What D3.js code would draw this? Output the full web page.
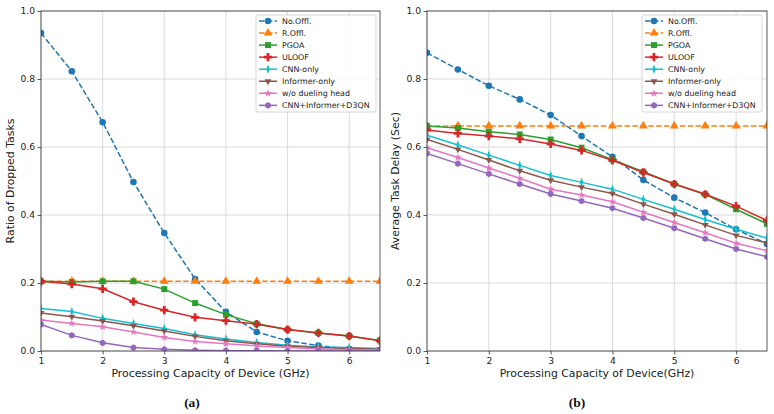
<!DOCTYPE html>
<html>
<head>
<meta charset="utf-8">
<script src="https://cdn.jsdelivr.net/npm/d3@7"></script>
<style>
  body { margin: 0; background: #fff; }
  text { font-family: "DejaVu Sans", sans-serif; }
</style>
</head>
<body>
<svg id="fig" width="774" height="414"></svg>
<script>
/*------------------------------------------*/
/*            Data                          */
/*------------------------------------------*/

var capacity = [1, 1.5, 2, 2.5, 3, 3.5, 4, 4.5, 5, 5.5, 6, 6.5];
var xTicks = [1, 2, 3, 4, 5, 6];
var yTicks = [0, 0.2, 0.4, 0.6, 0.8, 1.0];

var seriesNames = ["No.Offl.", "R.Offl.", "PGOA", "ULOOF", "CNN-only",
                   "Informer-only", "w/o dueling head", "CNN+Informer+D3QN"];

// (a) ratio of dropped tasks
var dropNoOffl    = [0.935, 0.823, 0.673, 0.497, 0.347, 0.212, 0.115, 0.056, 0.030, 0.016, 0.006, 0.003];
var dropROffl     = [0.205, 0.205, 0.205, 0.205, 0.205, 0.205, 0.205, 0.205, 0.205, 0.205, 0.205, 0.205];
var dropPGOA      = [0.205, 0.203, 0.205, 0.205, 0.182, 0.141, 0.107, 0.080, 0.063, 0.053, 0.044, 0.031];
var dropULOOF     = [0.205, 0.197, 0.183, 0.145, 0.120, 0.099, 0.089, 0.079, 0.063, 0.053, 0.044, 0.030];
var dropCNN       = [0.125, 0.116, 0.096, 0.081, 0.066, 0.048, 0.035, 0.025, 0.017, 0.012, 0.010, 0.007];
var dropInformer  = [0.112, 0.101, 0.088, 0.074, 0.059, 0.043, 0.030, 0.021, 0.014, 0.010, 0.007, 0.005];
var dropNoDueling = [0.091, 0.081, 0.071, 0.056, 0.040, 0.028, 0.021, 0.015, 0.010, 0.006, 0.004, 0.003];
var dropOurs      = [0.078, 0.046, 0.024, 0.010, 0.005, 0.002, 0.001, 0.001, 0.000, 0.000, 0.000, 0.000];

// (b) average task delay (sec)
var delayNoOffl    = [0.877, 0.828, 0.780, 0.740, 0.694, 0.632, 0.571, 0.503, 0.451, 0.407, 0.358, 0.315];
var delayROffl     = [0.662, 0.662, 0.662, 0.662, 0.662, 0.662, 0.662, 0.662, 0.662, 0.662, 0.662, 0.662];
var delayPGOA      = [0.662, 0.656, 0.645, 0.637, 0.622, 0.598, 0.563, 0.527, 0.491, 0.461, 0.417, 0.374];
var delayULOOF     = [0.650, 0.640, 0.632, 0.624, 0.609, 0.590, 0.561, 0.525, 0.491, 0.461, 0.426, 0.384];
var delayCNN       = [0.635, 0.606, 0.576, 0.546, 0.516, 0.496, 0.476, 0.446, 0.417, 0.387, 0.358, 0.332];
var delayInformer  = [0.622, 0.593, 0.562, 0.530, 0.502, 0.482, 0.463, 0.432, 0.402, 0.371, 0.340, 0.318];
var delayNoDueling = [0.598, 0.569, 0.538, 0.508, 0.476, 0.459, 0.439, 0.408, 0.378, 0.348, 0.317, 0.295];
var delayOurs      = [0.581, 0.551, 0.521, 0.491, 0.462, 0.441, 0.420, 0.391, 0.361, 0.330, 0.300, 0.277];

/*------------------------------------------*/
/*            Styles                        */
/*------------------------------------------*/

var colors = ["#1f77b4", "#ff7f0e", "#2ca02c", "#d62728", "#17becf",
              "#8c564b", "#e377c2", "#9467bd"];
var dashed = [true, true, false, false, false, false, false, false];

function hexagon(r) {
  var pts = d3.range(6).map(function(i) {
    var a = Math.PI / 6 + i * Math.PI / 3;
    return [r * Math.cos(a), r * Math.sin(a)];
  });
  return "M" + pts.join("L") + "Z";
}

var markers = [
  { path: d3.symbol(d3.symbolCircle, 34)() },
  { path: d3.symbol(d3.symbolTriangle, 34)() },
  { path: d3.symbol(d3.symbolSquare, 36)() },
  { path: d3.symbol(d3.symbolCross, 38)() },
  { path: d3.symbol(d3.symbolDiamond, 22)(), tf: "scale(0.7,1.1)" },
  { path: d3.symbol(d3.symbolTriangle, 20)(), tf: "rotate(180)" },
  { path: d3.symbol(d3.symbolStar, 20)() },
  { path: hexagon(3.3) }
];

/*------------------------------------------*/
/*            Panels                        */
/*------------------------------------------*/

var svg = d3.select("#fig");

var panels = [
  { left: 41, right: 380, yLabel: "Ratio of Dropped Tasks",
    xLabel: "Processing Capacity of Device (GHz)", caption: "(a)", labelX: 14,
    legendX: 256,
    data: [dropNoOffl, dropROffl, dropPGOA, dropULOOF, dropCNN, dropInformer, dropNoDueling, dropOurs] },
  { left: 427, right: 767, yLabel: "Average Task Delay (Sec)",
    xLabel: "Processing Capacity of Device(GHz)", caption: "(b)", labelX: 399,
    legendX: 642,
    data: [delayNoOffl, delayROffl, delayPGOA, delayULOOF, delayCNN, delayInformer, delayNoDueling, delayOurs] }
];

var plotTop = 11, plotBottom = 351;

panels.forEach(function(p, pi) {
  var x = d3.scaleLinear().domain([1, 6.5]).range([p.left, p.right]);
  var y = d3.scaleLinear().domain([0, 1]).range([plotBottom, plotTop]);

  var g = svg.append("g");

  g.append("clipPath").attr("id", "clip" + pi)
    .append("rect")
    .attr("x", p.left).attr("y", plotTop)
    .attr("width", p.right - p.left).attr("height", plotBottom - plotTop);

  // grid
  g.append("g").selectAll("line").data(xTicks).enter().append("line")
    .attr("x1", function(d) { return x(d); }).attr("x2", function(d) { return x(d); })
    .attr("y1", plotTop).attr("y2", plotBottom)
    .attr("stroke", "#d6d6d6").attr("stroke-width", 0.9);
  g.append("g").selectAll("line").data(yTicks).enter().append("line")
    .attr("y1", function(d) { return y(d); }).attr("y2", function(d) { return y(d); })
    .attr("x1", p.left).attr("x2", p.right)
    .attr("stroke", "#d6d6d6").attr("stroke-width", 0.9);

  // axes
  var xAxis = g.append("g")
    .attr("transform", "translate(0," + plotBottom + ")")
    .call(d3.axisBottom(x).tickValues(xTicks).tickSize(3.5).tickPadding(2.5).tickFormat(d3.format("d")));
  var yAxis = g.append("g")
    .attr("transform", "translate(" + p.left + ",0)")
    .call(d3.axisLeft(y).tickValues(yTicks).tickSize(3.5).tickPadding(2.5).tickFormat(d3.format(".1f")));
  [xAxis, yAxis].forEach(function(a) {
    a.select(".domain").remove();
    a.selectAll("line").attr("stroke", "#333").attr("stroke-width", 0.8);
    a.selectAll("text").attr("font-size", "9.2px").attr("fill", "#222")
      .attr("font-family", "DejaVu Sans");
  });

  // series
  var plot = g.append("g").attr("clip-path", "url(#clip" + pi + ")");
  var line = d3.line()
    .x(function(d, i) { return x(capacity[i]); })
    .y(function(d) { return y(d); });

  p.data.forEach(function(vals, si) {
    plot.append("path")
      .attr("d", line(vals))
      .attr("fill", "none")
      .attr("stroke", colors[si])
      .attr("stroke-width", 1.5)
      .attr("stroke-dasharray", dashed[si] ? "5.5,2.4" : null);
    plot.append("g").selectAll("path").data(vals).enter().append("path")
      .attr("transform", function(d, i) {
        return "translate(" + x(capacity[i]) + "," + y(d) + ")" + (markers[si].tf ? " " + markers[si].tf : "");
      })
      .attr("d", markers[si].path)
      .attr("fill", colors[si]);
  });

  // frame
  g.append("rect")
    .attr("x", p.left).attr("y", plotTop)
    .attr("width", p.right - p.left).attr("height", plotBottom - plotTop)
    .attr("fill", "none").attr("stroke", "#333").attr("stroke-width", 0.8);

  // labels
  g.append("text")
    .attr("x", (p.left + p.right) / 2).attr("y", 377)
    .attr("text-anchor", "middle").attr("font-size", "10.9px").attr("fill", "#222")
    .text(p.xLabel);
  g.append("text")
    .attr("transform", "translate(" + p.labelX + "," + (plotTop + plotBottom) / 2 + ") rotate(-90)")
    .attr("text-anchor", "middle").attr("font-size", "10.9px").attr("fill", "#222")
    .text(p.yLabel);
  g.append("text")
    .attr("x", pi === 0 ? 192 : 577).attr("y", 407)
    .attr("text-anchor", "middle").attr("font-size", "13.5px").attr("font-weight", "bold")
    .attr("fill", "#111")
    .style("font-family", "'Liberation Serif', serif")
    .text(p.caption);

  // legend
  var rowH = 12.05, lx = p.legendX, ly = 15;
  var legend = g.append("g").attr("transform", "translate(" + lx + "," + ly + ")");
  legend.append("rect")
    .attr("width", 120).attr("height", 97).attr("rx", 2)
    .attr("fill", "#fff").attr("fill-opacity", 0.85)
    .attr("stroke", "#ccc").attr("stroke-width", 0.8);
  var rows = legend.selectAll("g.row").data(seriesNames).enter().append("g")
    .attr("class", "row")
    .attr("transform", function(d, i) { return "translate(0," + (6 + rowH * i) + ")"; });
  rows.append("line")
    .attr("x1", 3).attr("x2", 21)
    .attr("stroke", function(d, i) { return colors[i]; })
    .attr("stroke-width", 1.5)
    .attr("stroke-dasharray", function(d, i) { return dashed[i] ? "5.5,2.4" : null; });
  rows.append("path")
    .attr("transform", function(d, i) { return "translate(12,0)" + (markers[i].tf ? " " + markers[i].tf : ""); })
    .attr("d", function(d, i) { return markers[i].path; })
    .attr("fill", function(d, i) { return colors[i]; });
  rows.append("text")
    .attr("x", 26).attr("dy", "0.33em")
    .attr("font-size", "7.9px").attr("fill", "#222")
    .text(function(d) { return d; });
});
</script>
</body>
</html>
